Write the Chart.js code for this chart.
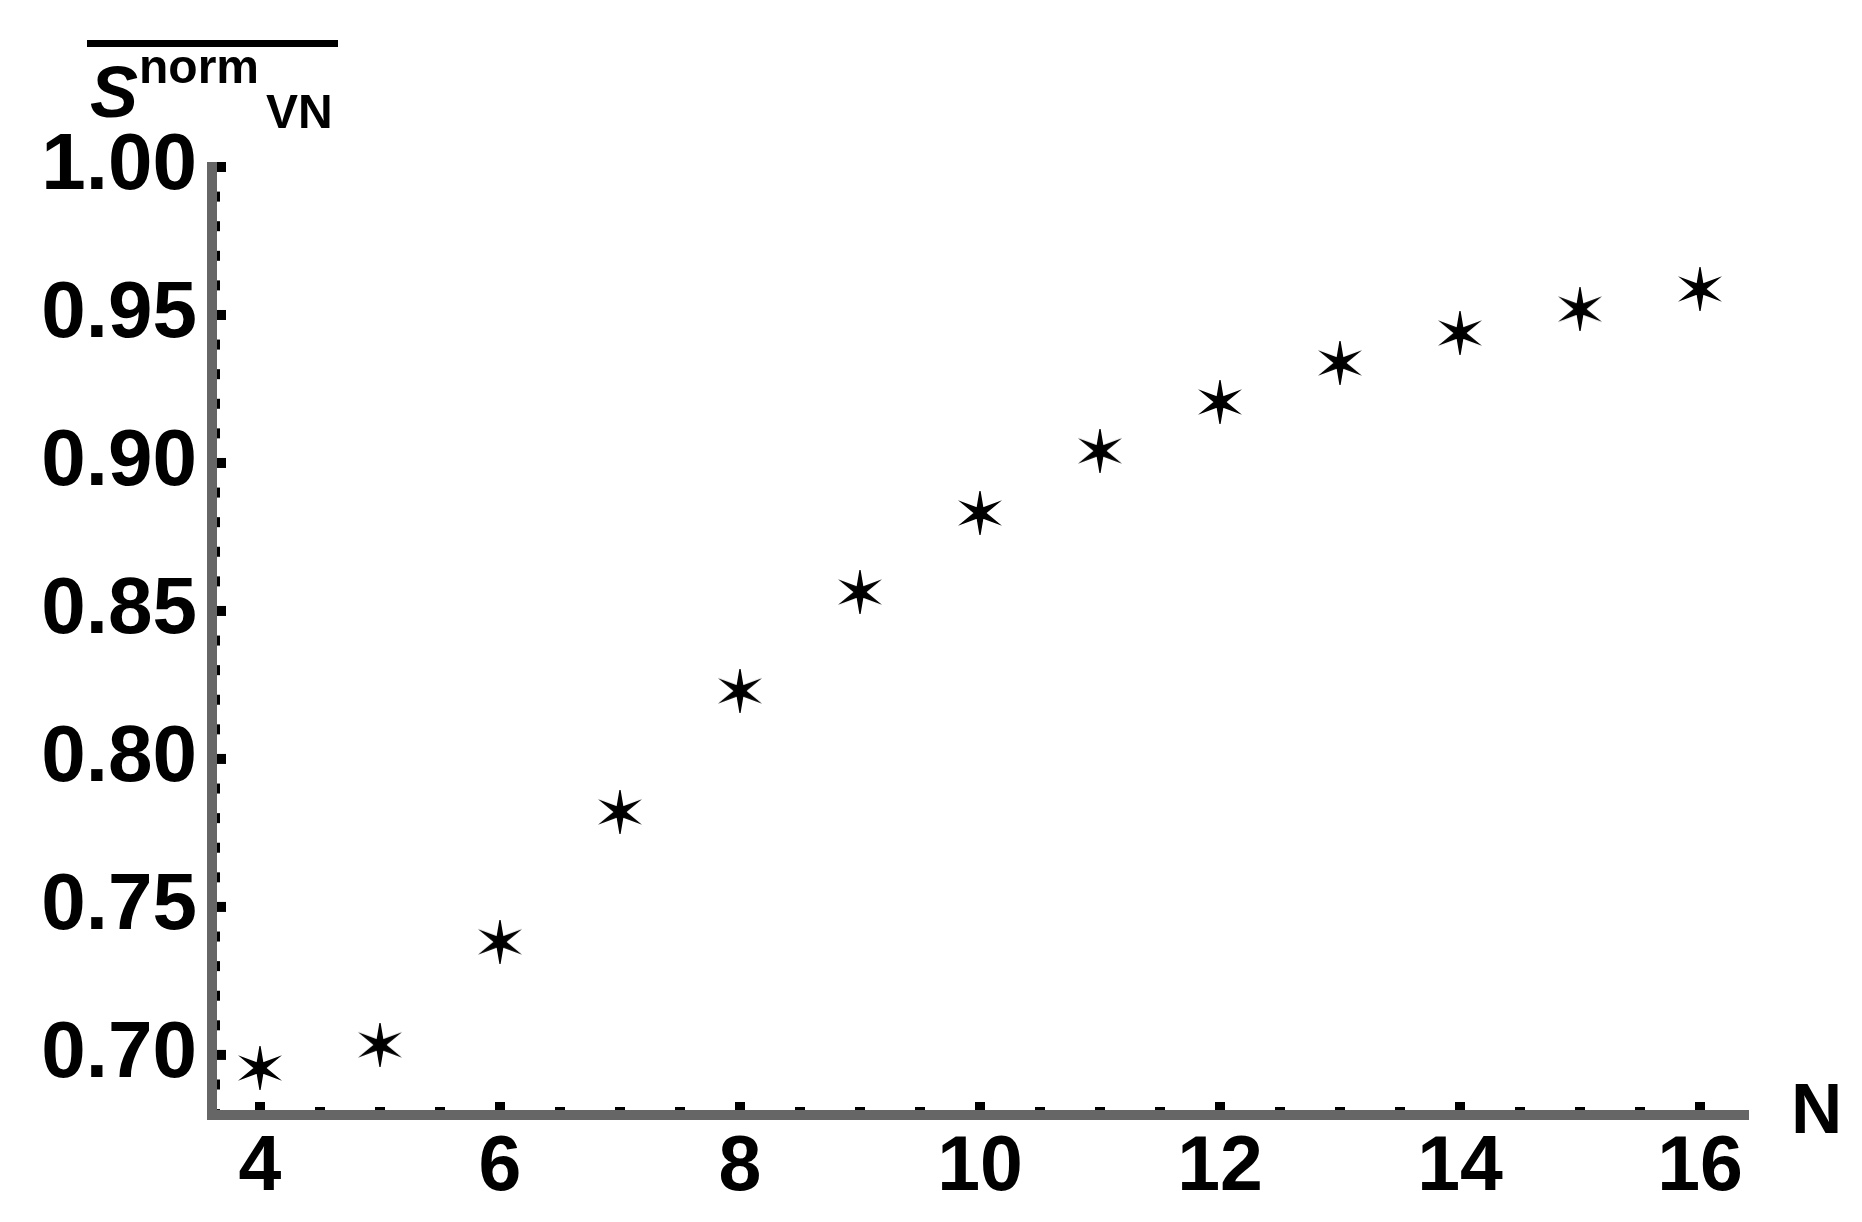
<!DOCTYPE html>
<html>
<head>
<meta charset="utf-8">
<script src="https://cdn.jsdelivr.net/npm/chart.js@4.4.1/dist/chart.umd.min.js"></script>
<style>
  html, body { margin: 0; background: #fff; }
  #wrap { width: 1862px; height: 1222px; }
</style>
</head>
<body>
<div id="wrap"><canvas id="chart"></canvas></div>
<script>
// system size N and normalised von Neumann entropy
const sizes = [4, 5, 6, 7, 8, 9, 10, 11, 12, 13, 14, 15, 16];
const entropy = [0.6956, 0.7034, 0.7382, 0.7821, 0.8230, 0.8564, 0.8831,
  0.9041, 0.9206, 0.9338, 0.9439, 0.9520, 0.9588];

const xTickValues = [4, 6, 8, 10, 12, 14, 16];
const yTickValues = [0.70, 0.75, 0.80, 0.85, 0.90, 0.95, 1.00];

const FONT = '"Liberation Sans", Arial, Helvetica, sans-serif';
const AXIS_GRAY = '#666666';

// six-armed asterisk like the Mathematica marker
function makeStar(radius, inner) {
  const size = radius * 2 + 2;
  const canvas = document.createElement('canvas');
  canvas.width = canvas.height = size;
  const ctx = canvas.getContext('2d');
  ctx.translate(size / 2, size / 2);
  ctx.beginPath();
  for (let i = 0; i < 12; i++) {
    const angle = -Math.PI / 2 + i * Math.PI / 6;
    const r = i % 2 === 0 ? radius : inner;
    ctx.lineTo(r * Math.cos(angle), r * Math.sin(angle));
  }
  ctx.closePath();
  ctx.fillStyle = '#000';
  ctx.fill();
  ctx.strokeStyle = '#000';
  ctx.lineWidth = 1.5;
  ctx.stroke();
  return canvas;
}

const tickMarks = {
  id: 'tickMarks',
  beforeDraw(chart) {
    const {ctx, chartArea, scales: {x, y}} = chart;
    ctx.save();
    ctx.fillStyle = '#fff';
    ctx.fillRect(0, 0, chart.width, chart.height);
    ctx.fillStyle = '#000';

    for (let i = 8; i <= 32; i++) {
      const px = x.getPixelForValue(i / 2);
      const len = i % 4 === 0 ? 8 : 3;
      ctx.fillRect(px - 5, chartArea.bottom - 5 - len, 10, len + 5);
    }
    for (let i = 68; i <= 100; i++) {
      const py = y.getPixelForValue(i / 100);
      const len = i % 5 === 0 ? 9 : 3;
      ctx.fillRect(chartArea.left, py - 5, len + 5, 10);
    }
    ctx.restore();
  },
  afterDraw(chart) {
    const {ctx, chartArea} = chart;
    ctx.save();
    ctx.fillStyle = '#000';
    ctx.textBaseline = 'alphabetic';

    ctx.fillRect(87, 40, 251, 7);
    ctx.font = `italic bold 72px ${FONT}`;
    ctx.fillText('S', 90, 117);
    ctx.font = `bold 48px ${FONT}`;
    ctx.fillText('norm', 139, 83);
    ctx.fillText('VN', 266, 128);

    ctx.font = `bold 71px "Liberation Sans Narrow", ${FONT}`;
    ctx.fillText('N', chartArea.right + 43, 1133);
    ctx.restore();
  },
};

new Chart(document.getElementById('chart'), {
  type: 'scatter',
  data: {
    datasets: [{
      data: sizes.map((n, i) => ({x: n, y: entropy[i]})),
      pointStyle: makeStar(21, 5.5),
      pointRadius: 21,
      pointHoverRadius: 21,
      showLine: false,
    }],
  },
  options: {
    responsive: true,
    maintainAspectRatio: false,
    devicePixelRatio: 1,
    animation: false,
    events: [],
    layout: {padding: {left: 12, top: 167, right: 114, bottom: 7}},
    plugins: {legend: {display: false}, tooltip: {enabled: false}},
    scales: {
      x: {
        type: 'linear',
        min: 3.6,
        max: 16.4,
        grid: {display: false, drawTicks: false},
        border: {display: true, color: AXIS_GRAY, width: 10},
        ticks: {color: '#000', font: {family: FONT, size: 77, weight: 'bold'}, padding: 8, maxRotation: 0},
        afterBuildTicks: scale => { scale.ticks = xTickValues.map(v => ({value: v})); },
        afterFit: scale => { scale.height = 100; },
      },
      y: {
        min: 0.6797,
        max: 1.0,
        grid: {display: false, drawTicks: false},
        border: {display: true, color: AXIS_GRAY, width: 10},
        ticks: {
          color: '#000',
          font: {family: FONT, size: 80, weight: 'bold'},
          padding: 15,
          labelOffset: 0,
          callback: v => v.toFixed(2),
        },
        afterBuildTicks: scale => { scale.ticks = yTickValues.map(v => ({value: v})); },
        afterFit: scale => { scale.width = 200; },
      },
    },
  },
  plugins: [tickMarks],
});
</script>
</body>
</html>
